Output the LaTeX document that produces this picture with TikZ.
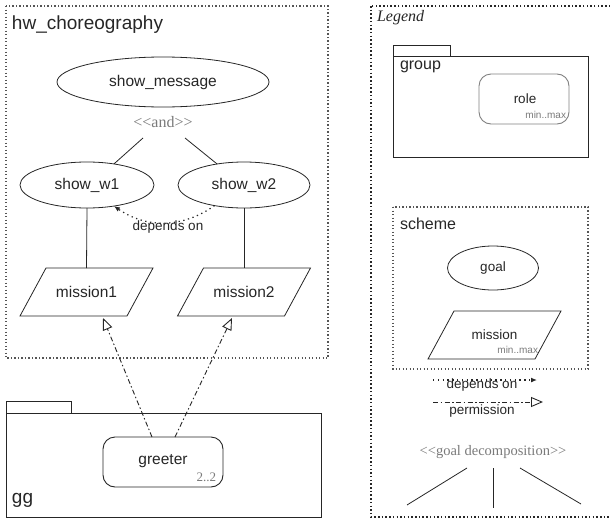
\documentclass[tikz,border=0pt]{standalone}
\usepackage{fontspec}
\setmainfont{Liberation Sans}
\newfontfamily\lblfont{Liberation Serif}
\usetikzlibrary{arrows.meta,shapes.geometric}
\definecolor{ink}{HTML}{262626}
\definecolor{lgray}{HTML}{7A7A7A}
\definecolor{frame}{HTML}{555555}
\definecolor{soft}{HTML}{808080}
\begin{document}
\begin{tikzpicture}[x=1pt,y=-1pt,
  every node/.style={text=ink, font=\fontsize{15.5}{18}\selectfont, inner sep=0pt, outer sep=0pt},
  ln/.style={draw=ink, line width=0.8pt},
  dotframe/.style={draw=frame, line width=1.1pt, dash pattern=on 1.3pt off 2.2pt},
  goalnode/.style={ellipse, draw=ink, line width=0.8pt},
  boxtitle/.style={anchor=base west, font=\fontsize{19}{22}\selectfont},
  legtitle/.style={anchor=base west, font=\fontsize{16}{19}\selectfont},
  legtext/.style={font=\fontsize{13.5}{16}\selectfont},
  stereo/.style={text=lgray, font=\lblfont\fontsize{14.5}{17}\selectfont},
  card/.style={text=lgray, anchor=base east, font=\lblfont\fontsize{13}{15}\selectfont},
  cardsans/.style={text=lgray, anchor=base east, font=\fontsize{10}{12}\selectfont},
  rolebox/.style={draw=ink, line width=0.9pt, rounded corners=12pt},
  depline/.style={draw=ink, line width=1.2pt, dash pattern=on 1.3pt off 3.5pt, -{Latex[length=6pt,width=5pt]}},
  perm/.style={draw=ink, line width=0.9pt, dash pattern=on 5pt off 2.5pt on 1.5pt off 2.5pt, -{Triangle[open,length=12pt,width=10pt,line width=0.9pt]}}
]
\useasboundingbox (0,0) rectangle (610,522);

% ---------- hw_choreography ----------
\draw[dotframe] (6,6) rectangle (328,358);
\node[boxtitle] (title) at (12,29) {hw\_choreography};

\node[goalnode, minimum width=212pt, minimum height=50pt] (msg) at (163,82) {show\_message};
\node[stereo, font=\lblfont\fontsize{16}{18}\selectfont] (and) at (163,122) {<{}<and>{}>};
\node[goalnode, minimum width=134pt, minimum height=46pt] (w1) at (87,185) {show\_w1};
\node[goalnode, minimum width=132pt, minimum height=46pt] (w2) at (244,185) {show\_w2};
\coordinate (a1) at (143,138);
\coordinate (a2) at (185,138);
\draw[ln] (a1) -- (w1.38);
\draw[ln] (a2) -- (w2.142);

\draw[depline] (w2.215) to[bend left=35] (w1.322);
\node[legtext] (dep) at (168,227) {depends on};

\node[minimum width=133pt, minimum height=48pt] (m1) at (86.5,292) {mission1};
\draw[ln] (m1.south west) -- ([xshift=-26pt]m1.south east) -- (m1.north east) -- ([xshift=26pt]m1.north west) -- cycle;
\node[minimum width=133pt, minimum height=48pt] (m2) at (244,292) {mission2};
\draw[ln] (m2.south west) -- ([xshift=-26pt]m2.south east) -- (m2.north east) -- ([xshift=26pt]m2.north west) -- cycle;

\draw[ln] (w1.south) -- (m1.north);
\draw[ln] (w2.south) -- (m2.north);

% ---------- gg group ----------
\draw[ln] (6,401) rectangle (71,413);
\draw[ln] (6,413) rectangle (321,517);
\node[boxtitle] (gg) at (12,503) {gg};
\node[rolebox, minimum width=120pt, minimum height=50pt] (gr) at (163,462) {};
\node (grt) at (163,461) {greeter};
\node[card] (gr22) at (216,481) {2..2};

\draw[perm] ([xshift=-11pt]gr.north) -- ([xshift=16.5pt,yshift=-2pt]m1.south);
\draw[perm] ([xshift=12pt]gr.north) -- ([xshift=-12pt,yshift=-2pt]m2.south);

% ---------- Legend ----------
\draw[draw=ink, line width=1.4pt, dash pattern=on 1.5pt off 2.2pt] (371,6) rectangle (616,517);
\node[anchor=base west, text=ink, font=\lblfont\itshape\fontsize{16}{19}\selectfont] (leg) at (377,21) {Legend};

\draw[ln] (393,45) rectangle (450,56);
\draw[ln] (393,56) rectangle (588,157);
\node[legtitle] (grp) at (400,69) {group};
\node[rolebox, draw=soft, minimum width=90pt, minimum height=50pt] (role) at (524,99) {};
\node[legtext] (rolet) at (525,99) {role};
\node[cardsans] (rolec) at (566,118) {min..max};

\draw[dotframe] (393,207) rectangle (588,369);
\node[legtitle] (sch) at (400,229) {scheme};
\node[goalnode, legtext, minimum width=91pt, minimum height=44pt] (goal) at (493,268) {goal};
\node[legtext, minimum width=133pt, minimum height=48pt] (lm) at (494.5,335) {mission};
\draw[ln] (lm.south west) -- ([xshift=-26pt]lm.south east) -- (lm.north east) -- ([xshift=26pt]lm.north west) -- cycle;
\node[cardsans] (lmc) at (538,353) {min..max};

\coordinate (d1) at (433,380);
\coordinate (d2) at (537,380);
\draw[depline] (d1) -- (d2);
\node[legtext] (dlab) at (482,385) {depends on};
\coordinate (p1) at (433,402);
\coordinate (p2) at (543,402);
\draw[perm] (p1) -- (p2);
\node[legtext] (plab) at (482,411) {permission};

\node[stereo] (gd) at (493,452) {<{}<goal decomposition>{}>};
\coordinate (g1a) at (467,468);
\coordinate (g1b) at (407,505);
\coordinate (g2a) at (493,468);
\coordinate (g2b) at (493,508);
\coordinate (g3a) at (520,468);
\coordinate (g3b) at (581,504);
\draw[ln] (g1a) -- (g1b);
\draw[ln] (g2a) -- (g2b);
\draw[ln] (g3a) -- (g3b);
\end{tikzpicture}
\end{document}
